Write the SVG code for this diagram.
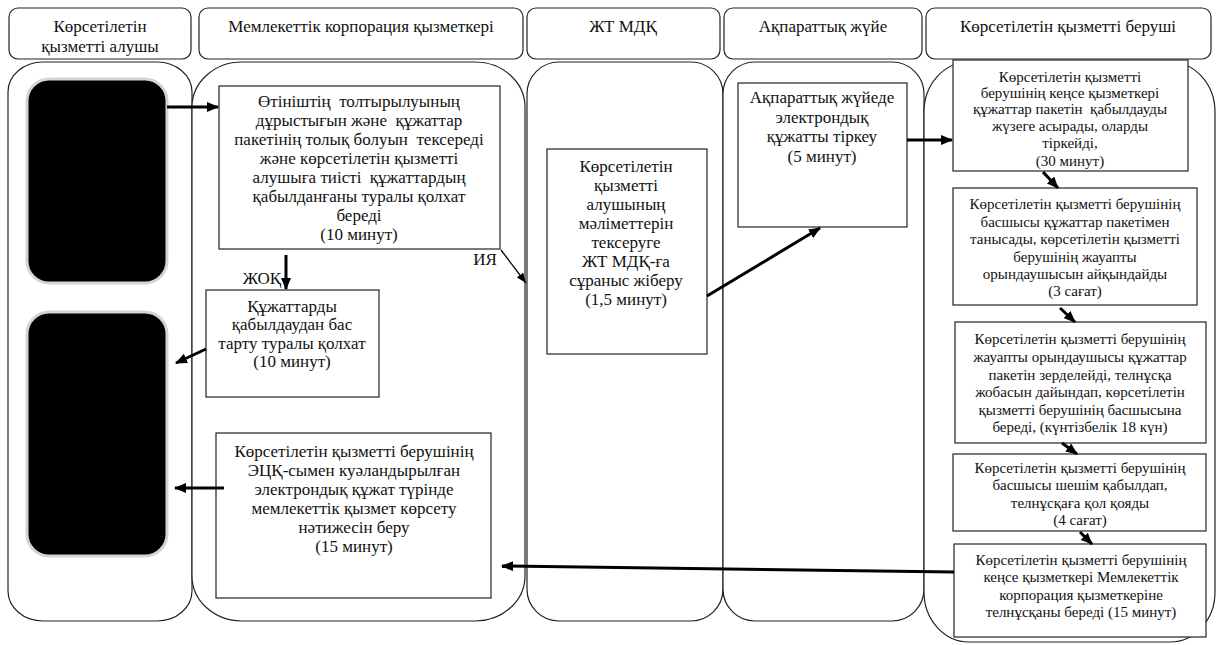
<svg xmlns="http://www.w3.org/2000/svg" width="1219" height="645" viewBox="0 0 1219 645" font-family="'Liberation Serif', 'Times New Roman', 'DejaVu Serif', serif">
<style>
text{font-family:"Liberation Serif","Times New Roman","DejaVu Serif",serif;fill:#111;text-anchor:middle;white-space:pre}
.h{font-size:17px}
.t{font-size:17px}
.s{font-size:15px}
.hdr{fill:#fff;stroke:#222;stroke-width:1.2}
.lane{fill:#fff;stroke:#222;stroke-width:1.2}
.box{fill:#fff;stroke:#222;stroke-width:1.2}
.blk{fill:#000;stroke:#d4d4d4;stroke-width:3}
.c{fill:none;stroke:#000;stroke-width:3;marker-end:url(#ah)}
.cthin{fill:none;stroke:#000;stroke-width:1.3;marker-end:url(#ahs)}
</style>
<defs>
<marker id="ah" markerUnits="userSpaceOnUse" markerWidth="12" markerHeight="10" refX="11" refY="5" orient="auto"><path d="M0,0 L12,5 L0,10 z" fill="#000"/></marker>
<marker id="ahs" markerUnits="userSpaceOnUse" markerWidth="10" markerHeight="8" refX="10" refY="4" orient="auto"><path d="M0,0 L10,4 L0,8 z" fill="#000"/></marker>
<clipPath id="clipE1"><rect x="953" y="60" width="235" height="110"/></clipPath>
<clipPath id="clipE4"><rect x="953" y="454" width="253" height="75"/></clipPath>
</defs>
<rect width="1219" height="645" fill="#fff"/>

<g id="lanes">
<rect class="lane" x="8" y="62" width="184" height="559" rx="35" ry="30"/>
<rect class="lane" x="192" y="62" width="333" height="559" rx="50" ry="45"/>
<rect class="lane" x="527" y="62" width="196" height="559" rx="32" ry="32"/>
<rect class="lane" x="723" y="62" width="201" height="559" rx="32" ry="32"/>
<rect class="lane" x="924" y="62" width="291" height="580" rx="45" ry="50"/>
</g>

<g id="headers">
<g id="h1"><rect class="hdr" x="9" y="8" width="182" height="51" rx="9"/><text class="h" x="100" y="32">Көрсетілетін</text><text class="h" x="100" y="52">қызметті алушы</text></g>
<g id="h2"><rect class="hdr" x="199" y="8" width="324" height="51" rx="9"/><text class="h" x="361" y="32">Мемлекеттік корпорация қызметкері</text></g>
<g id="h3"><rect class="hdr" x="527" y="8" width="193" height="51" rx="9"/><text class="h" x="623" y="32">ЖТ МДҚ</text></g>
<g id="h4"><rect class="hdr" x="724" y="8" width="198" height="51" rx="9"/><text class="h" x="823" y="32">Ақпараттық жүйе</text></g>
<g id="h5"><rect class="hdr" x="926" y="8" width="285" height="51" rx="9"/><text class="h" x="1068" y="32">Көрсетілетін қызметті беруші</text></g>
</g>

<g id="recipient1"><rect class="blk" x="27" y="79" width="140" height="204" rx="22"/></g>
<g id="recipient2"><rect class="blk" x="27" y="312" width="140" height="244" rx="22"/></g>

<g id="boxA">
<rect class="box" x="219" y="86" width="281" height="163"/>
<text class="t" x="359" y="107">Өтініштің  толтырылуының</text>
<text class="t" x="359" y="126">дұрыстығын және  құжаттар</text>
<text class="t" x="359" y="145">пакетінің толық болуын  тексереді</text>
<text class="t" x="359" y="164">және көрсетілетін қызметті</text>
<text class="t" x="359" y="183">алушыға тиісті  құжаттардың</text>
<text class="t" x="359" y="202">қабылданғаны туралы қолхат</text>
<text class="t" x="359" y="221">береді</text>
<text class="t" x="359" y="240">(10 минут)</text>
</g>

<g id="boxB">
<rect class="box" x="206" y="290" width="173" height="107"/>
<text class="t" x="292" y="312">Құжаттарды</text>
<text class="t" x="292" y="330">қабылдаудан бас</text>
<text class="t" x="292" y="349">тарту туралы қолхат</text>
<text class="t" x="292" y="367">(10 минут)</text>
</g>

<g id="boxF">
<rect class="box" x="216" y="433" width="275" height="165"/>
<text class="t" x="354" y="457">Көрсетілетін қызметті берушінің</text>
<text class="t" x="354" y="476">ЭЦҚ-сымен куәландырылған</text>
<text class="t" x="354" y="495">электрондық құжат түрінде</text>
<text class="t" x="354" y="514">мемлекеттік қызмет көрсету</text>
<text class="t" x="354" y="533">нәтижесін беру</text>
<text class="t" x="354" y="552">(15 минут)</text>
</g>

<g id="boxC">
<rect class="box" x="547" y="149" width="160" height="205"/>
<text class="t" x="626" y="172">Көрсетілетін</text>
<text class="t" x="626" y="191">қызметті</text>
<text class="t" x="626" y="210">алушының</text>
<text class="t" x="626" y="229">мәліметтерін</text>
<text class="t" x="626" y="248">тексеруге</text>
<text class="t" x="626" y="267">ЖТ МДҚ-ға</text>
<text class="t" x="626" y="286">сұраныс жіберу</text>
<text class="t" x="626" y="305">(1,5 минут)</text>
</g>

<g id="boxD">
<rect class="box" x="738" y="83" width="169" height="144"/>
<text class="t" x="822" y="103">Ақпараттық жүйеде</text>
<text class="t" x="822" y="123">электрондық</text>
<text class="t" x="822" y="142">құжатты тіркеу</text>
<text class="t" x="822" y="162">(5 минут)</text>
</g>

<g id="boxE1">
<rect class="box" x="953" y="60" width="235" height="111"/>
<g clip-path="url(#clipE1)">
<text class="s" x="1070" y="82">Көрсетілетін қызметті</text>
<text class="s" x="1070" y="98">берушінің кеңсе қызметкері</text>
<text class="s" x="1070" y="114">құжаттар пакетін  қабылдауды</text>
<text class="s" x="1070" y="131">жүзеге асырады, оларды</text>
<text class="s" x="1070" y="148">тіркейді,</text>
<text class="s" x="1070" y="166">(30 минут)</text>
</g>
</g>

<g id="boxE2">
<rect class="box" x="953" y="188" width="244" height="117"/>
<text class="s" x="1075" y="209">Көрсетілетін қызметті берушінің</text>
<text class="s" x="1075" y="227">басшысы құжаттар пакетімен</text>
<text class="s" x="1075" y="244">танысады, көрсетілетін қызметті</text>
<text class="s" x="1075" y="262">берушінің жауапты</text>
<text class="s" x="1075" y="279">орындаушысын айқындайды</text>
<text class="s" x="1075" y="296">(3 сағат)</text>
</g>

<g id="boxE3">
<rect class="box" x="955" y="322" width="251" height="121"/>
<text class="s" x="1080" y="344">Көрсетілетін қызметті берушінің</text>
<text class="s" x="1080" y="362">жауапты орындаушысы құжаттар</text>
<text class="s" x="1080" y="380">пакетін зерделейді, телнұсқа</text>
<text class="s" x="1080" y="397">жобасын дайындап, көрсетілетін</text>
<text class="s" x="1080" y="415">қызметті берушінің басшысына</text>
<text class="s" x="1080" y="432">береді, (күнтізбелік 18 күн)</text>
</g>

<g id="boxE4">
<rect class="box" x="953" y="454" width="253" height="77"/>
<g clip-path="url(#clipE4)">
<text class="s" x="1080" y="473">Көрсетілетін қызметті берушінің</text>
<text class="s" x="1080" y="490">басшысы шешім қабылдап,</text>
<text class="s" x="1080" y="508">телнұсқаға қол қояды</text>
<text class="s" x="1080" y="525">(4 сағат)</text>
</g>
</g>

<g id="boxE5">
<rect class="box" x="954" y="544" width="252" height="93"/>
<text class="s" x="1081" y="565">Көрсетілетін қызметті берушінің</text>
<text class="s" x="1081" y="582">кеңсе қызметкері Мемлекеттік</text>
<text class="s" x="1081" y="600">корпорация қызметкеріне</text>
<text class="s" x="1081" y="617">телнұсқаны береді (15 минут)</text>
</g>

<g id="labels">
<text class="t" x="262" y="284">ЖОҚ</text>
<text class="t" x="485" y="265">ИЯ</text>
</g>

<g id="connectors">
<line class="c" x1="167" y1="107" x2="218" y2="107"/>
<line class="c" x1="286" y1="255" x2="286" y2="289"/>
<line class="c" x1="206" y1="349" x2="176" y2="363"/>
<line class="cthin" x1="501" y1="250" x2="526" y2="283"/>
<line class="c" x1="707" y1="296" x2="820" y2="228"/>
<line class="c" x1="907" y1="140" x2="952" y2="140"/>
<line class="c" x1="1043" y1="172" x2="1058" y2="188"/>
<line class="c" x1="1060" y1="308" x2="1075" y2="322"/>
<line class="c" x1="1062" y1="443" x2="1077" y2="454"/>
<line class="c" x1="1080" y1="532" x2="1092" y2="544"/>
<line class="c" x1="954" y1="572" x2="502" y2="566"/>
<line class="c" x1="224" y1="488" x2="175" y2="488"/>
</g>
</svg>
